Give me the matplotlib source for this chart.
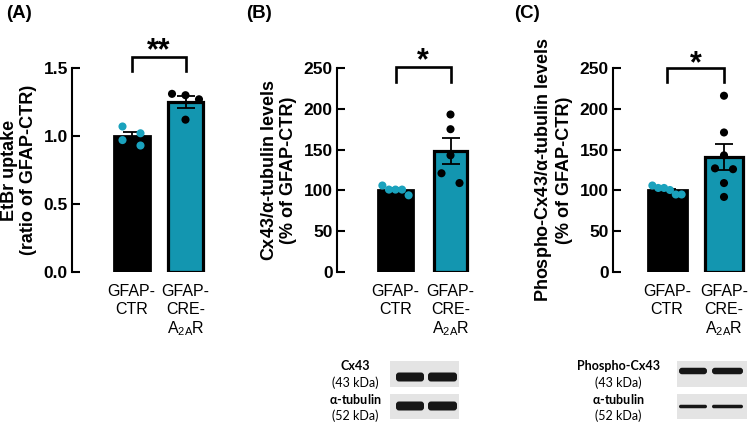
import numpy as np
import matplotlib
matplotlib.use("Agg")
import matplotlib.pyplot as plt
from matplotlib.patches import Rectangle, FancyBboxPatch

plt.rcParams['font.family'] = ['Liberation Sans', 'DejaVu Sans']
plt.rcParams['mathtext.default'] = 'regular'

# ---- data ----
groups = ["GFAP-\nCTR", "GFAP-\nCRE-\nA$_{2A}$R"]

etbr_ctr = [1.07, 0.97, 1.02, 0.93]
etbr_cre = [1.31, 1.30, 1.27, 1.12]

cx43_ctr = [106, 101, 101, 101, 94]
cx43_cre = [193, 175, 143, 121, 109]

pcx43_ctr = [103, 100.5, 103, 95, 106, 95]
pcx43_cre = [216, 171, 143, 127, 126, 109, 92]

significance = ["**", "*", "*"]

TEAL = "#1396b0"
TEAL_DOT = "#1aa2bd"
W, H = 749, 424

fig = plt.figure(figsize=(W / 100, H / 100), dpi=100)

panels = [
    dict(ctr=etbr_ctr, cre=etbr_cre, ymax=1.5, ystep=0.5, fmt="{:.1f}",
         ylabel="EtBr uptake\n(ratio of GFAP-CTR)", letter="(A)", sig=significance[0],
         left=72, c0=131.5, sp=54, bar=36, width=150, letter_x=6,
         br_top=1.054, br_bot=0.985, star_y=1.044),
    dict(ctr=cx43_ctr, cre=cx43_cre, ymax=250, ystep=50, fmt="{:.0f}",
         ylabel="Cx43/$\\alpha$-tubulin levels\n(% of GFAP-CTR)", letter="(B)", sig=significance[1],
         left=337, c0=395.5, sp=55, bar=35, width=150, letter_x=246,
         br_top=1.005, br_bot=0.93, star_y=0.995),
    dict(ctr=pcx43_ctr, cre=pcx43_cre, ymax=250, ystep=50, fmt="{:.0f}",
         ylabel="Phospho-Cx43/$\\alpha$-tubulin levels\n(% of GFAP-CTR)", letter="(C)", sig=significance[2],
         left=613, c0=667, sp=57, bar=39, width=136, letter_x=514,
         br_top=1.0, br_bot=0.93, star_y=0.98),
]

AX_TOP, AX_BOT = 68, 272
AX_H = AX_BOT - AX_TOP


def swarm(vals, px_per_unit, bar_px, near=10, span_max=12, alt=9):
    # simple prism-like spreading of overlapping points, returns pixel offsets
    vals = np.asarray(vals, dtype=float)
    order = np.argsort(-vals, kind="stable")
    pix = vals[order] * px_per_unit
    offs = np.zeros(len(vals))
    clusters = [[0]]
    for i in range(1, len(pix)):
        if pix[clusters[-1][-1]] - pix[i] < near:
            clusters[-1].append(i)
        else:
            clusters.append([i])
    for c in clusters:
        n = len(c)
        if n == 1:
            continue
        span = pix[c[0]] - pix[c[-1]]
        if span < span_max:
            step = min(18, 0.75 * bar_px / (n - 1))
            for k, i in enumerate(c):
                offs[order[i]] = (k - (n - 1) / 2) * step
        else:
            for k, i in enumerate(c):
                offs[order[i]] = -alt if k % 2 == 0 else alt
    return offs


for p in panels:
    ax = fig.add_axes([p["left"] / W, (H - AX_BOT) / H, p["width"] / W, AX_H / H])
    xl = -(p["c0"] - p["left"]) / p["sp"]
    ax.set_xlim(xl, xl + p["width"] / p["sp"])
    ax.set_ylim(0, p["ymax"])
    bw = p["bar"] / p["sp"]

    data = [np.array(p["ctr"]), np.array(p["cre"])]
    means = [d.mean() for d in data]
    sems = [d.std(ddof=1) / np.sqrt(len(d)) for d in data]

    ax.bar(0, means[0], width=bw, color="black", edgecolor="black", linewidth=2, zorder=1)
    ax.bar(1, means[1], width=bw - 0.03, color=TEAL, edgecolor="black", linewidth=2.3, zorder=1)

    ax.errorbar([0, 1], means, yerr=sems, fmt="none", ecolor="black",
                elinewidth=1.3, capsize=6.5, capthick=1.3, zorder=3)

    ypx = AX_H / p["ymax"]
    for i, (d, col) in enumerate(zip(data, [TEAL_DOT, "black"])):
        off = swarm(d, ypx, p["bar"]) / p["sp"]
        ax.scatter(i + off, d, s=34, color=col, edgecolors="none", zorder=4)

    ticks = np.arange(0, p["ymax"] + p["ystep"] / 2, p["ystep"])
    ax.set_yticks(ticks)
    ax.set_yticklabels([p["fmt"].format(t) for t in ticks], fontsize=12.5, fontweight="bold")
    ax.set_xticks([0, 1])
    ax.set_xticklabels(groups, fontsize=11.5, linespacing=1.2)
    ax.tick_params(axis="x", length=0, pad=9)
    ax.tick_params(axis="y", direction="in", length=6, width=1.5, pad=3)
    for s in ["top", "right", "bottom"]:
        ax.spines[s].set_visible(False)
    ax.spines["left"].set_linewidth(1.5)
    ax.set_ylabel(p["ylabel"], fontsize=13, fontweight="bold", linespacing=1.1, labelpad=5)

    tr = ax.get_xaxis_transform()
    ax.plot([0, 0, 1, 1], [p["br_bot"], p["br_top"], p["br_top"], p["br_bot"]],
            color="black", lw=1.9, transform=tr, clip_on=False, solid_joinstyle="miter")
    ax.text(0.5, p["star_y"], p["sig"], transform=tr, ha="center", va="baseline",
            fontsize=22, fontweight="bold")

    fig.text(p["letter_x"] / W, 1 - 13 / H, p["letter"], fontsize=13.5, fontweight="bold",
             va="center", ha="left")

# ---- western blot insets (drawn in figure pixel coordinates) ----
ov = fig.add_axes([0, 0, 1, 1], zorder=-1)
ov.set_xlim(0, W)
ov.set_ylim(H, 0)
ov.axis("off")

blots = [
    dict(lab_x=355, names=["Cx43", "$\\alpha$-tubulin"], x0=390, x1=459,
         lanes=[(395, 425), (427, 458)], bands=[(377, 9), (406, 9)]),
    dict(lab_x=618, names=["Phospho-Cx43", "$\\alpha$-tubulin"], x0=677, x1=747,
         lanes=[(678, 708), (711, 744)], bands=[(371, 6.5), (406.5, 3.5)]),
]
kda = ["(43 kDa)", "(52 kDa)"]
rows = [(361, 387), (394, 419)]
name_y = [366, 399]
kda_y = [383, 416]

for b in blots:
    for r, (y0, y1) in enumerate(rows):
        ov.add_patch(Rectangle((b["x0"], y0), b["x1"] - b["x0"], y1 - y0,
                               facecolor="#e4e4e4", edgecolor="none"))
        cy, h = b["bands"][r]
        for (l0, l1) in b["lanes"]:
            ov.add_patch(FancyBboxPatch((l0 + 1, cy - h / 2), l1 - l0 - 2, h,
                                        boxstyle="round,pad=0,rounding_size=%.1f" % min(3, h / 2),
                                        facecolor="#161616", edgecolor="none"))
        ov.text(b["lab_x"], name_y[r], b["names"][r], ha="center", va="center",
                fontsize=9, fontweight="bold", family=["Lato", "DejaVu Sans"])
        ov.text(b["lab_x"], kda_y[r], kda[r], ha="center", va="center",
                fontsize=9, family=["Lato", "DejaVu Sans"])

fig.savefig("out.png", dpi=100)
